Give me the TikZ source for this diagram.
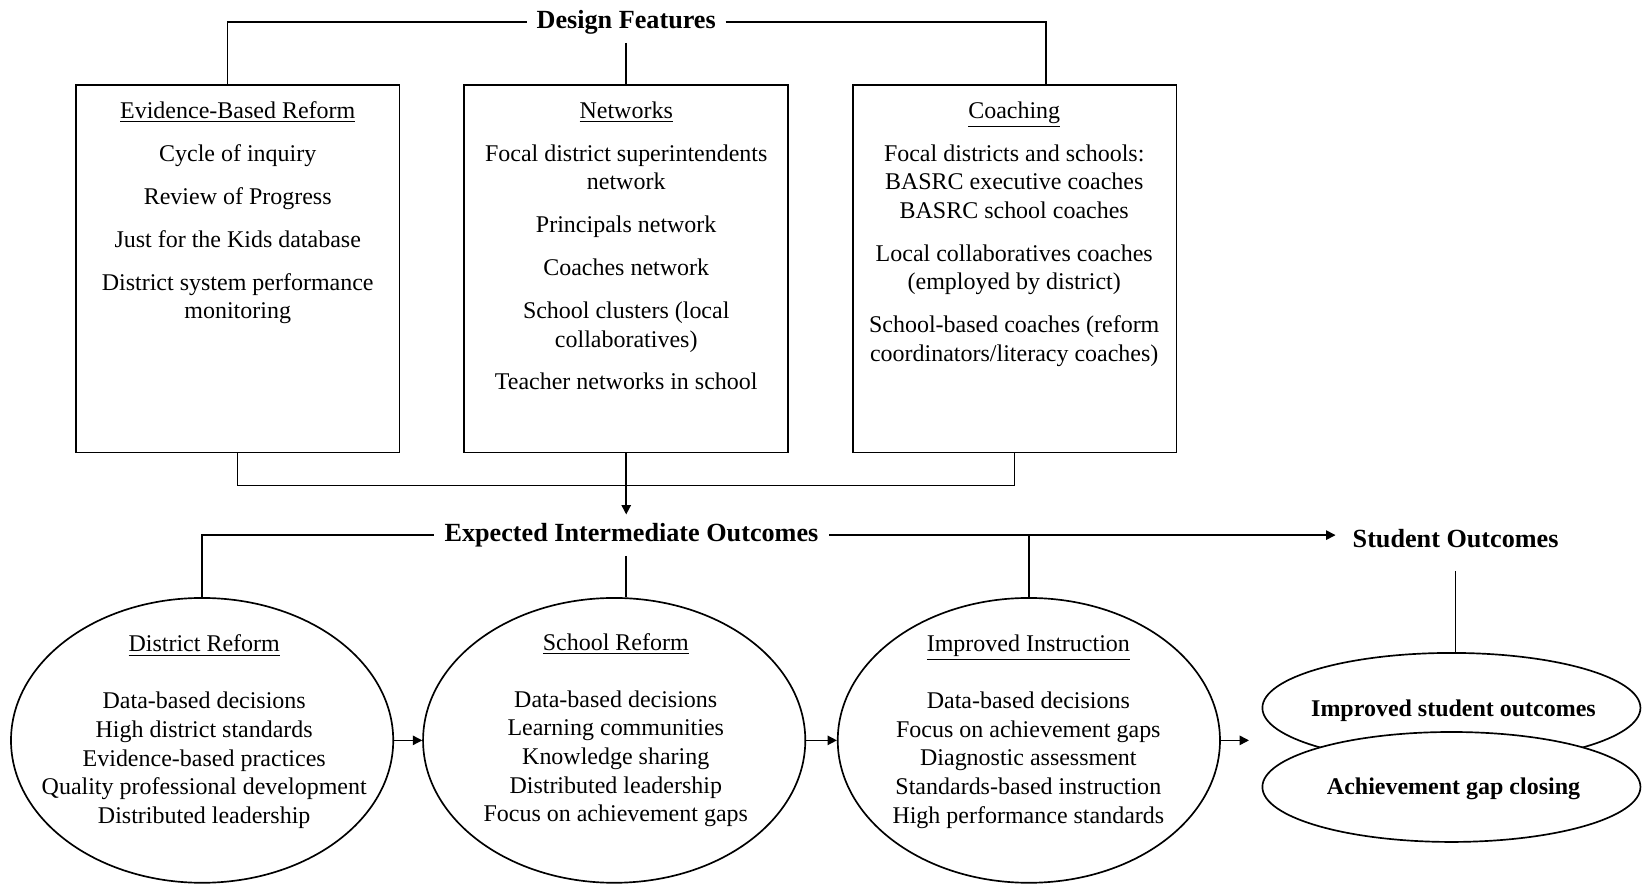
\documentclass[tikz,border=0pt]{standalone}
\usepackage{fontspec}
\setmainfont{Liberation Serif}
\usetikzlibrary{shapes.geometric,arrows.meta}
\begin{document}
\begin{tikzpicture}[x=0.5pt,y=-0.5pt,
  every node/.style={inner sep=0pt},
  conn/.style={line width=0.7pt},
  arr/.style={conn,-{Triangle[length=4.5pt,width=4.5pt]}},
  fbox/.style={draw,line width=0.8pt,rectangle,minimum width=154.6pt,minimum height=175.5pt},
  oval/.style={draw,line width=0.8pt,ellipse,minimum width=182.5pt,minimum height=136pt},
  soval/.style={draw,fill=white,line width=0.8pt,ellipse,minimum width=180.5pt,minimum height=52.5pt},
  body/.style={font=\fontsize{11.45}{13.65}\selectfont,align=center,anchor=north},
  head/.style={font=\bfseries\fontsize{12.5}{15}\selectfont,inner xsep=4.5pt,inner ysep=4pt},
  bhead/.style={font=\bfseries\fontsize{11.45}{13.65}\selectfont}
]
\useasboundingbox (0,0) rectangle (1568,845);

% Design features
\node[head] (df) at (598,21) {Design Features};
\node[fbox] (b1) at (227,256.5) {};
\node[fbox] (b2) at (598,256.5) {};
\node[fbox] (b3) at (969,256.5) {};

\node[body] (t1) at (227,96.5) {\underline{Evidence-Based Reform}\\[6.85pt]
  Cycle of inquiry\\[6.85pt]
  Review of Progress\\[6.85pt]
  Just for the Kids database\\[6.85pt]
  District system performance\\ monitoring};
\node[body] (t2) at (598,96.5) {\underline{Networks}\\[6.85pt]
  Focal district superintendents\\ network\\[6.85pt]
  Principals network\\[6.85pt]
  Coaches network\\[6.85pt]
  School clusters (local\\ collaboratives)\\[6.85pt]
  Teacher networks in school};
\node[body] (t3) at (968.5,96.5) {\underline{Coaching}\\[6.85pt]
  Focal districts and schools:\\ BASRC executive coaches\\ BASRC school coaches\\[6.85pt]
  Local collaboratives coaches\\ (employed by district)\\[6.85pt]
  School-based coaches (reform\\ coordinators/literacy coaches)};

\draw[conn] (df.west) -| ([xshift=-5pt]b1.north);
\draw[conn] (df.east) -| ([xshift=15pt]b3.north);
\draw[conn] (df.south) -- (b2.north);
\draw[conn] (b1.south) -- ++(0,31) -| (b3.south);

% Intermediate outcomes
\node[head,inner xsep=5pt] (eio) at (603,511) {Expected Intermediate Outcomes};
\node[head,inner xsep=8pt] (so) at (1390,514) {Student Outcomes};
\draw[arr] (b2.south) -- (b2.south |- eio.north);

\node[oval] (e1) at (193,707) {};
\node[oval] (e2) at (586.5,707) {};
\node[oval] (e3) at (982.5,707) {};

\node[body] (u1) at (195,606) {\underline{District Reform}\\[13.6pt]
  Data-based decisions\\ High district standards\\ Evidence-based practices\\
  Quality professional development\\ Distributed leadership};
\node[body] (u2) at (588,604.5) {\underline{School Reform}\\[13.6pt]
  Data-based decisions\\ Learning communities\\ Knowledge sharing\\
  Distributed leadership\\ Focus on achievement gaps};
\node[body] (u3) at (982,606) {\underline{Improved Instruction}\\[13.6pt]
  Data-based decisions\\ Focus on achievement gaps\\ Diagnostic assessment\\
  Standards-based instruction\\ High performance standards};

\node[soval] (s1) at (1386,676) {};
\node[bhead] (s1t) at (1388,678.5) {Improved student outcomes};
\node[soval] (s2) at (1386,751.5) {};
\node[bhead] (s2t) at (1388,753.5) {Achievement gap closing};

\draw[conn] (eio.west) -| (e1.north);
\draw[conn] (eio.south -| b2.south) -- (b2.south |- e2.north);
\draw[arr] (eio.east) -- (eio.east -| so.west);
\draw[conn] (eio.east -| e3.north) -- (e3.north);
\draw[conn] ([yshift=-7pt]so.south) -- (so.south |- s1.north);

\draw[arr] (e1.east) -- (e2.west);
\draw[arr] (e2.east) -- (e3.west);
\draw[arr] (e3.east) -- ([xshift=-6pt]e3.east -| s1.west);
\end{tikzpicture}
\end{document}
